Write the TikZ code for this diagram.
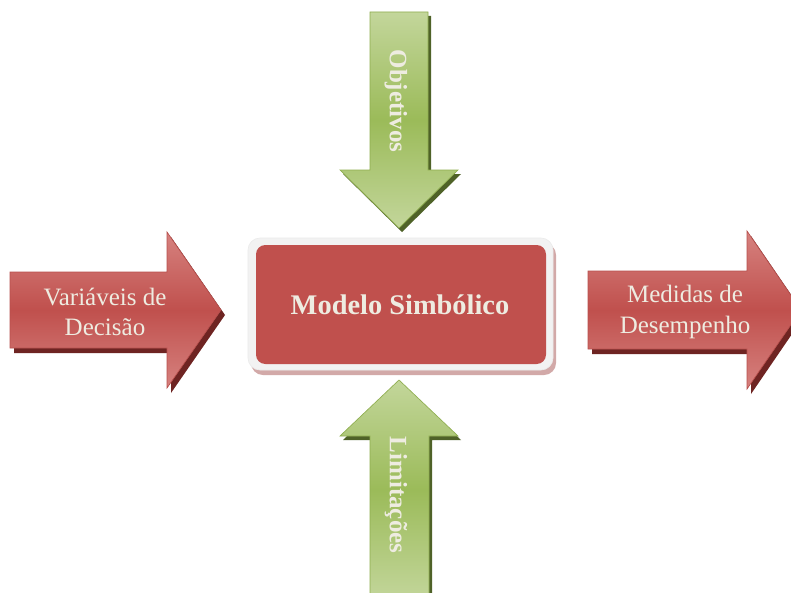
\documentclass[tikz,border=0pt]{standalone}
\usepackage{fontspec}
\setmainfont{Liberation Serif}
\usetikzlibrary{positioning}
\definecolor{boxred}{HTML}{C0504D}
\definecolor{redlight}{HTML}{D6827F}
\definecolor{redline}{HTML}{B8504D}
\definecolor{redshade}{HTML}{6E2422}
\definecolor{greenmid}{HTML}{9BBB59}
\definecolor{greenlight}{HTML}{C3D69B}
\definecolor{greenline}{HTML}{8FAE4F}
\definecolor{greenshade}{HTML}{4F6228}
\definecolor{cream}{HTML}{EEECE1}
\definecolor{frame}{HTML}{F2F2F2}
\definecolor{roseshade}{HTML}{D2A9A8}
\tikzset{
  redarrow/.style={top color=redlight, bottom color=redlight, middle color=boxred,
    draw=redline, line width=0.5pt, line join=miter},
  greenarrow/.style={top color=greenlight, bottom color=greenlight, middle color=greenmid,
    draw=greenline, line width=0.5pt, line join=miter},
  arrowtext/.style={text=cream, align=center, inner sep=0pt,
    font=\fontsize{18.75}{23}\selectfont},
  sidetext/.style={text=cream, inner sep=0pt, rotate=-90,
    font=\fontsize{18.75}{22.5}\selectfont\bfseries},
}

\begin{document}
\begin{tikzpicture}[x=0.75pt, y=-0.75pt]
  \clip (0,0) rectangle (791,592);
  \fill[white] (0,0) rectangle (791,592);

  % arrows on the left and right
  \fill[redshade, shift={(4,5)}] (10,272) -- (167,272) -- (167,232) -- (221,310)
    -- (167,388) -- (167,348) -- (10,348) -- cycle;
  \path[redarrow] (10,272) -- (167,272) -- (167,232) -- (221,310)
    -- (167,388) -- (167,348) -- (10,348) -- cycle;
  \fill[redshade, shift={(4,5)}] (588,271) -- (747,271) -- (747,231) -- (801,310)
    -- (747,389) -- (747,349) -- (588,349) -- cycle;
  \path[redarrow] (588,271) -- (747,271) -- (747,231) -- (801,310)
    -- (747,389) -- (747,349) -- (588,349) -- cycle;

  % arrows above and below
  \fill[greenshade, shift={(3,4)}] (370,12) -- (428,12) -- (428,170) -- (458,170)
    -- (399,228) -- (340,170) -- (370,170) -- cycle;
  \path[greenarrow] (370,12) -- (428,12) -- (428,170) -- (458,170)
    -- (399,228) -- (340,170) -- (370,170) -- cycle;
  \fill[greenshade, shift={(3,4)}] (370,600) -- (429,600) -- (429,436) -- (458,436)
    -- (399,380) -- (340,436) -- (370,436) -- cycle;
  \path[greenarrow] (370,600) -- (429,600) -- (429,436) -- (458,436)
    -- (399,380) -- (340,436) -- (370,436) -- cycle;

  % central box
  \fill[roseshade, rounded corners=9pt, shift={(3,5)}] (248,238) rectangle (553,370);
  \filldraw[fill=frame, draw=black!8, line width=0.5pt, rounded corners=9pt]
    (248,238) rectangle (553,370);
  \fill[boxred, rounded corners=7pt] (256,245) rectangle (546,364);

  \node (modelo) at (400,305) [text=cream, inner sep=0pt,
    font=\fontsize{21.3}{24}\selectfont\bfseries] {Modelo Simbólico};
  \node[arrowtext] (var) at (105,312) {Variáveis de\\Decisão};
  \node[arrowtext] (med) at (685,312) {Medidas de\\Desempenho};
  \node[sidetext] (obj) at (396,101) {Objetivos};
  \node[sidetext] (lim) at (396,495) {Limitações};
\end{tikzpicture}
\end{document}
